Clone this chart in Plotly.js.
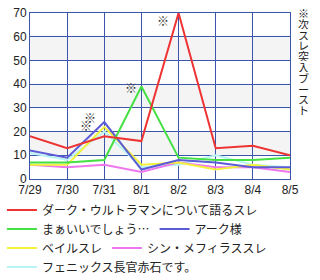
<!DOCTYPE html>
<html><head><meta charset="utf-8">
<script src="https://cdn.plot.ly/plotly-3.0.1.min.js"></script>
<style>html,body{margin:0;padding:0;background:#fff}#c{width:320px;height:280px}</style>
</head><body><div id="c"></div>
<script>
const dates = ["7/29","7/30","7/31","8/1","8/2","8/3","8/4","8/5"];
const names = ["ダーク・ウルトラマンについて語るスレ","まぁいいでしょう…","アーク様","ベイルスレ","シン・メフィラススレ","フェニックス長官赤石です。"];
const red    = [18,13,18,16,70,13,14,10];
const green  = [7,7,8,39,9,8,8,9];
const blue   = [12,9,24,4,8,7,5,5];
const yellow = [6,6,22,6,7,4,6,4];
const pink   = [6,5,6,3,7,5,5,3];
const cyan   = [11,8,20,5,6,10,6,5];
const colors = ["#ee3333","#44e044","#5c5cd6","#f2f23c","#ee77ee","#b8f4f4"];
const series = [red, green, blue, yellow, pink, cyan];
const legendRow = ["legend","legend2","legend2","legend3","legend3","legend4"];
const yTicks = [0,10,20,30,40,50,60,70];
const marks = [
  {x:1.62, y:26, t:"※"},
  {x:1.5, y:22.6, t:"※"},
  {x:2.72, y:38.4, t:"※"},
  {x:3.58, y:67, t:"※"}
];
const sideText = "※次スレ突入ブースト";

const font = "Liberation Sans, Noto Sans CJK JP, sans-serif";
const jp = "Noto Sans CJK JP, sans-serif";
const grid = "#3a55aa";

const traces = [];
for (let i = series.length - 1; i >= 0; i--) {
  traces.push({
    type: "scatter", mode: "lines", x: dates, y: series[i], name: names[i],
    line: {color: colors[i], width: 2}, legendrank: i + 1, legend: legendRow[i]
  });
}
const shapes = [];
for (let k = 1; k < yTicks.length - 1; k += 2) {
  shapes.push({type: "rect", xref: "paper", yref: "y", x0: 0, x1: 1,
    y0: yTicks[k], y1: yTicks[k + 1], fillcolor: "#f4f4f4", line: {width: 0}, layer: "below"});
}
const annotations = marks.map(m => ({x: m.x, y: m.y, xref: "x", yref: "y", text: m.t,
  showarrow: false, font: {family: jp, size: 12, color: "#333"}}));
const chars = Array.from(sideText);
chars.forEach((c, i) => annotations.push({
  xref: "paper", yref: "paper", x: 1.05, y: 1 - i * 0.065, xanchor: "center", yanchor: "middle",
  height: 10, borderpad: 0,
  text: c, showarrow: false, font: {family: jp, size: 11, color: "#222"}
}));

function leg(y) {
  return {orientation: "h", x: -0.108, y: y, xanchor: "left", yanchor: "middle",
    font: {family: jp, size: 12, color: "#222"}, itemwidth: 30, traceorder: "normal",
    bgcolor: "rgba(0,0,0,0)"};
}

Plotly.newPlot("c", traces, {
  width: 320, height: 280,
  margin: {l: 30, r: 30, t: 13, b: 101, autoexpand: false},
  paper_bgcolor: "#fff", plot_bgcolor: "#fff",
  font: {family: font, size: 12, color: "#222"},
  showlegend: true,
  legend: leg(-0.187), legend2: leg(-0.301), legend3: leg(-0.416), legend4: leg(-0.530),
  xaxis: {type: "category", range: [0, 7], showgrid: true, gridcolor: grid, gridwidth: 1,
    showline: true, linecolor: grid, linewidth: 1, mirror: true, ticks: "", zeroline: false,
    fixedrange: true, tickfont: {size: 12}},
  yaxis: {range: [0, 70], tickvals: yTicks, showgrid: true, gridcolor: grid, gridwidth: 1,
    showline: true, linecolor: grid, linewidth: 1, mirror: true, ticks: "", zeroline: false,
    fixedrange: true, tickfont: {size: 12}},
  shapes: shapes,
  annotations: annotations
}, {staticPlot: true});
</script></body></html>
